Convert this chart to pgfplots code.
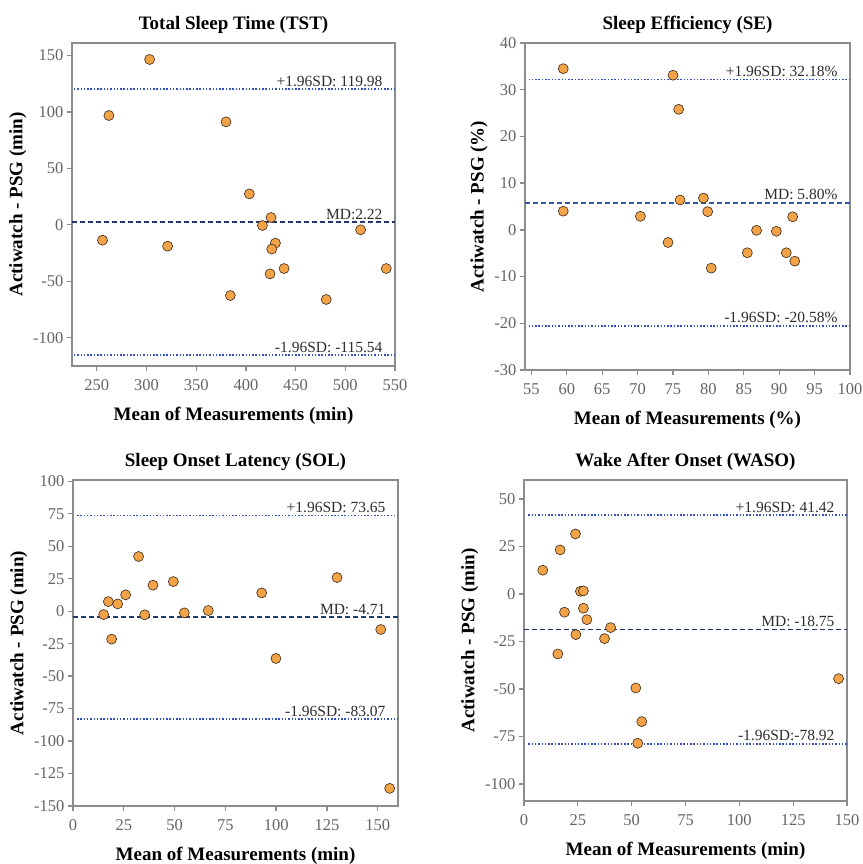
\documentclass[border=0pt]{standalone}
\usepackage{pgfplots}
\pgfplotsset{compat=1.18}
\usepackage{fontspec}
\setmainfont{Liberation Serif}
\definecolor{axgray}{RGB}{140,140,140}
\definecolor{tickgray}{RGB}{100,100,100}
\definecolor{ptorange}{RGB}{242,163,72}
\definecolor{ptedge}{RGB}{60,40,25}
\definecolor{sdblue}{RGB}{50,80,195}
\definecolor{mdnavy}{RGB}{35,55,110}
\definecolor{mdblue}{RGB}{45,85,170}
\definecolor{anno}{RGB}{45,45,45}
\pgfplotsset{
  ba/.style={
    scale only axis, clip=false,
    axis line style={axgray, line width=1.6pt},
    tick style={axgray, line width=1.3pt},
    major tick length=5pt, tick align=outside,
    xtick pos=bottom, ytick pos=left,
    ticklabel style={font=\fontsize{16.5}{18}\selectfont, text=tickgray},
    xticklabel style={yshift=-5pt},
    /pgf/number format/assume math mode=true,
    label style={font=\fontsize{19}{22}\selectfont\bfseries},
    title style={font=\fontsize{19}{22}\selectfont\bfseries, at={(0.5,1)}, anchor=south, yshift=0pt},
    xlabel style={at={(axis description cs:0.5,0)}, anchor=north, inner sep=0pt, yshift=-41pt},
  },
  pts/.style={only marks, mark=*, mark size=5pt, mark options={fill=ptorange, draw=ptedge, line width=0.6pt}},
  sd/.style={sdblue, line width=1.7pt, dash pattern=on 1.5pt off 1.8pt},
  md/.style={line width=1.7pt, dash pattern=on 5pt off 3pt},
}
\tikzset{ann/.style={anchor=base east, xshift=-9pt, yshift=3pt, text=anno, font=\fontsize{15.5}{17}\selectfont}}
\begin{document}
\begin{tikzpicture}
\useasboundingbox (0,0) rectangle (862pt,-864pt);
% Panel 1: TST
\begin{axis}[ba, at={(72pt,-43pt)}, anchor=north west, width=323pt, height=323pt,
  xmin=225, xmax=550, ymin=-125, ymax=161,
  xtick={250,300,...,550}, ytick={-100,-50,0,50,100,150},
  title={Total Sleep Time (TST)}, xlabel={Mean of Measurements (min)}, ylabel={Actiwatch - PSG (min)}]
\addplot[sd] coordinates {(227,119.98) (550,119.98)};
\addplot[md, mdnavy] coordinates {(225,2.22) (550,2.22)};
\addplot[sd] coordinates {(227,-115.54) (550,-115.54)};
\addplot[pts] coordinates {
(303.1,146.4) (262.1,96.8) (380.0,91.2) (403.5,27.4) (425.3,6.5) (416.6,-0.6)
(515.4,-4.4) (255.7,-13.6) (321.2,-18.9) (429.7,-16.2) (426.0,-21.5) (438.4,-38.7)
(541.2,-38.7) (424.3,-43.4) (384.3,-62.6) (480.8,-66.1)};
\node[ann] at (axis cs:550,119.98) {+1.96SD: 119.98};
\node[ann] at (axis cs:550,2.22) {MD:2.22};
\node[ann] at (axis cs:550,-115.54) {-1.96SD: -115.54};
\end{axis}
% Panel 2: SE
\begin{axis}[ba, at={(525pt,-43pt)}, anchor=north west, width=325pt, height=327pt,
  xmin=54.1, xmax=100, ymin=-30, ymax=40,
  xtick={55,60,...,100}, ytick={-30,-20,...,40},
  title={Sleep Efficiency (SE)}, xlabel={Mean of Measurements (\%)}, ylabel={Actiwatch - PSG (\%)}]
\addplot[sd] coordinates {(54.6,32.18) (100,32.18)};
\addplot[md, mdblue] coordinates {(54.1,5.80) (100,5.80)};
\addplot[sd] coordinates {(54.6,-20.58) (100,-20.58)};
\addplot[pts] coordinates {
(59.5,34.5) (75.0,33.1) (75.8,25.8) (76.0,6.4) (79.3,6.8) (59.5,4.0)
(79.9,3.9) (70.4,2.9) (91.9,2.8) (86.8,-0.1) (89.6,-0.3) (74.3,-2.7)
(85.5,-4.9) (91.0,-4.9) (92.2,-6.7) (80.4,-8.2)};
\node[ann] at (axis cs:100,32.18) {+1.96SD: 32.18\%};
\node[ann] at (axis cs:100,5.80) {MD: 5.80\%};
\node[ann] at (axis cs:100,-20.58) {-1.96SD: -20.58\%};
\end{axis}
% Panel 3: SOL
\begin{axis}[ba, at={(73pt,-480pt)}, anchor=north west, width=325pt, height=326pt,
  xmin=0, xmax=160, ymin=-150, ymax=101,
  xtick={0,25,...,150}, ytick={-150,-125,...,100},
  title={Sleep Onset Latency (SOL)}, xlabel={Mean of Measurements (min)}, ylabel={Actiwatch - PSG (min)}]
\addplot[sd] coordinates {(2,73.65) (160,73.65)};
\addplot[md, mdnavy] coordinates {(0,-4.71) (160,-4.71)};
\addplot[sd] coordinates {(2,-83.07) (160,-83.07)};
\addplot[pts] coordinates {
(15.1,-2.6) (17.4,7.4) (22.0,5.6) (19.0,-21.5) (25.9,12.6) (32.3,42.1)
(35.3,-2.8) (39.4,20.0) (49.4,22.8) (54.8,-1.3) (66.6,0.5) (92.9,14.1)
(99.9,-36.4) (130.0,25.9) (151.5,-14.1) (155.9,-136.4)};
\node[ann] at (axis cs:160,73.65) {+1.96SD: 73.65};
\node[ann] at (axis cs:160,-4.71) {MD: -4.71};
\node[ann] at (axis cs:160,-83.07) {-1.96SD: -83.07};
\end{axis}
% Panel 4: WASO
\begin{axis}[ba, at={(524pt,-480pt)}, anchor=north west, width=323pt, height=321pt,
  xmin=0, xmax=150, ymin=-109, ymax=60,
  xtick={0,25,...,150}, ytick={-100,-75,...,50},
  title={Wake After Onset (WASO)}, xlabel={Mean of Measurements (min)}, ylabel={Actiwatch - PSG (min)}]
\addplot[sd] coordinates {(2,41.42) (150,41.42)};
\addplot[md, mdnavy] coordinates {(0,-18.75) (150,-18.75)};
\addplot[sd] coordinates {(2,-78.92) (150,-78.92)};
\addplot[pts] coordinates {
(23.9,31.6) (16.8,23.2) (8.7,12.5) (26.2,1.4) (27.6,1.6) (18.8,-9.6)
(27.6,-7.5) (29.2,-13.5) (40.2,-17.7) (24.1,-21.4) (37.4,-23.5) (15.7,-31.6)
(51.9,-49.5) (146.1,-44.6) (54.7,-67.2) (52.8,-78.6)};
\node[ann] at (axis cs:150,41.42) {+1.96SD: 41.42};
\node[ann] at (axis cs:150,-18.75) {MD: -18.75};
\node[ann] at (axis cs:150,-78.92) {-1.96SD:-78.92};
\end{axis}
\end{tikzpicture}
\end{document}
